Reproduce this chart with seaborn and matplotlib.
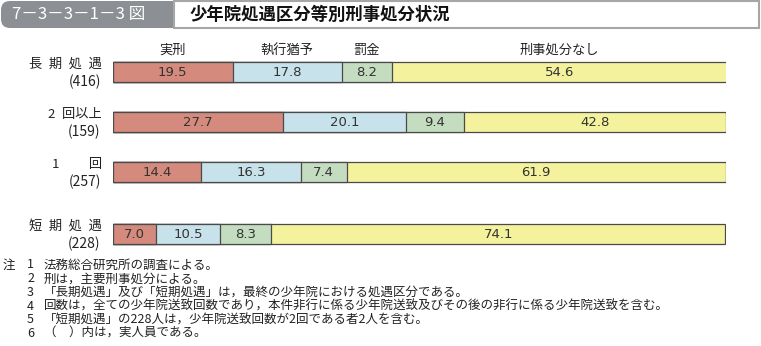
import matplotlib
matplotlib.use("Agg")
import matplotlib.pyplot as plt
from matplotlib.patches import FancyBboxPatch, Rectangle
import numpy as np
import pandas as pd
import seaborn as sns

# ---- data ----
categories = ["長\u2002期\u2002処\u2002遇", "2\u2002回以上", "1　　 回", "短\u2002期\u2002処\u2002遇"]
counts = ["(416)", "(159)", "(257)", "(228)"]
segments = ["実刑", "執行猶予", "罰金", "刑事処分なし"]
jikkei = [19.5, 27.7, 14.4, 7.0]
shikko_yuyo = [17.8, 20.1, 16.3, 10.5]
bakkin = [8.2, 9.4, 7.4, 8.3]
nashi = [54.6, 42.8, 61.9, 74.1]
notes = [
    ("1", "法務総合研究所の調査による。"),
    ("2", "刑は，主要刑事処分による。"),
    ("3", "「長期処遇」及び「短期処遇」は，最終の少年院における処遇区分である。"),
    ("4", "回数は，全ての少年院送致回数であり，本件非行に係る少年院送致及びその後の非行に係る少年院送致を含む。"),
    ("5", "「短期処遇」の228人は，少年院送致回数が2回である者2人を含む。"),
    ("6", "（　）内は，実人員である。"),
]
fig_id = "7－3－3－1－3 図"
title = "少年院処遇区分等別刑事処分状況"

# ---- style ----
sns.set_theme(style="white")
plt.rcParams["font.family"] = ["Noto Sans CJK JP", "DejaVu Sans"]
colors = ["#D48A7C", "#C7E2EA", "#C4DCBF", "#F5F29E"]
edge = "#4A4A4A"

W, H = 761, 346
fig = plt.figure(figsize=(W / 100, H / 100), dpi=100)

# row layout (positions along the category axis)
ypos = np.array([0.0, 1.0, 2.0, 3.24])

# main axes: pixel x 113..726, y 52..252
ax = fig.add_axes([113 / W, 1 - 252 / H, 613 / W, 200 / H])

vals = np.array([jikkei, shikko_yuyo, bakkin, nashi])
cum = np.cumsum(vals, axis=0)
for k in range(len(segments) - 1, -1, -1):
    df = pd.DataFrame({"value": cum[k], "row": ypos})
    sns.barplot(data=df, x="value", y="row", orient="y", native_scale=True,
                color=colors[k], saturation=1, width=0.4,
                edgecolor=edge, linewidth=0.9, ax=ax)

ax.set_xlim(0, 100)
ax.set_ylim(3.6, -0.4)
ax.axis("off")

# value labels
for k in range(len(segments)):
    for i in range(len(ypos)):
        left = cum[k][i] - vals[k][i]
        ax.text(left + vals[k][i] / 2, ypos[i], f"{vals[k][i]:.1f}",
                ha="center", va="center", fontsize=9.5, color="#333333",
                family=["DejaVu Sans"])

# segment headers above first row
for k in range(len(segments)):
    left = cum[k][0] - vals[k][0]
    ax.text(left + vals[k][0] / 2, ypos[0] - 0.43, segments[k],
            ha="center", va="center", fontsize=9.5, color="#222222")

# row labels
for i in range(len(ypos)):
    ax.text(-0.018, ypos[i] - 0.15, categories[i], transform=ax.get_yaxis_transform(),
            ha="right", va="center", fontsize=9.5, color="#222222")
    ax.text(-0.020, ypos[i] + 0.19, counts[i], transform=ax.get_yaxis_transform(),
            ha="right", va="center", fontsize=10, color="#222222")

# overlay for header and notes (pixel coordinates)
ov = fig.add_axes([0, 0, 1, 1])
ov.set_xlim(0, W)
ov.set_ylim(H, 0)
ov.axis("off")
ov.set_zorder(-1)

ov.add_patch(FancyBboxPatch((1, 1), 190, 27, boxstyle="round,pad=0,rounding_size=9",
                            facecolor="#8C9094", edgecolor="none"))
ov.add_patch(Rectangle((174, 1), 585, 27, facecolor="white", edgecolor="#A6A6A6", linewidth=1.5))
ov.text(12, 15, fig_id, ha="left", va="center", fontsize=12, color="white")
ov.text(190, 15, title, ha="left", va="center", fontsize=12.5, color="#111111", fontweight="bold")

y0 = 265
for j, (num, txt) in enumerate(notes):
    y = y0 + j * 13.7
    if j == 0:
        ov.text(3, y, "注", ha="left", va="center", fontsize=9, color="#222222")
    ov.text(34, y, num, ha="right", va="center", fontsize=9, color="#222222")
    ov.text(44, y, txt, ha="left", va="center", fontsize=9, color="#222222")

fig.savefig("out.png", dpi=100)
